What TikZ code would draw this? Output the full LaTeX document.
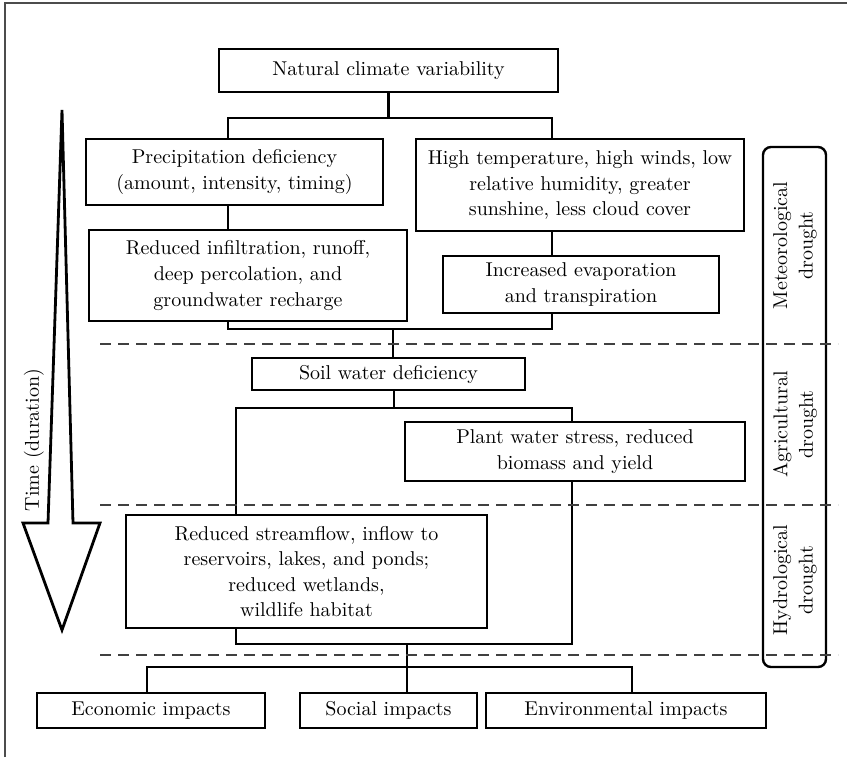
\documentclass[tikz,border=0pt]{standalone}
\usepackage{amsmath,amssymb}
\usetikzlibrary{positioning}

\begin{document}
\begin{tikzpicture}[x=0.5pt,y=-0.5pt]
\tikzset{
  flowbox/.style={draw=black,line width=1.3pt,align=center,inner sep=1pt,font=\fontsize{10}{12.8}\selectfont},
  flowline/.style={draw=black,line width=1.3pt,line cap=rect,line join=miter},
  stagesep/.style={draw=black!75,line width=1.3pt,dash pattern=on 5.5pt off 3.5pt},
  stagelabel/.style={rotate=90,align=center,inner sep=0pt,font=\fontsize{10}{12.8}\selectfont}
}
\useasboundingbox (0,0) rectangle (847,757);
% frame
\draw[black!70,line width=0.6pt] (5,757) -- (5,3) -- (847,3);
% boxes
\node[flowbox,minimum width=169.5pt,minimum height=21.5pt] (n_ncv) at (388.5,70.5) {Natural climate variability};
\node[flowbox,minimum width=148.5pt,minimum height=33pt] (n_precip) at (234.5,172) {Precipitation deficiency\\(amount, intensity, timing)};
\node[flowbox,minimum width=164pt,minimum height=46pt] (n_hightemp) at (580,185) {High temperature, high winds, low\\relative humidity, greater\\sunshine, less cloud cover};
\node[flowbox,minimum width=159pt,minimum height=45.5pt] (n_infil) at (248,275.5) {Reduced infiltration, runoff,\\deep percolation, and\\groundwater recharge};
\node[flowbox,minimum width=138pt,minimum height=28.5pt] (n_evap) at (581,284.5) {Increased evaporation\\and transpiration};
\node[flowbox,minimum width=136.5pt,minimum height=16pt] (n_soil) at (388.5,374) {Soil water deficiency};
\node[flowbox,minimum width=170pt,minimum height=29.5pt] (n_plant) at (575,451.5) {Plant water stress, reduced\\biomass and yield};
\node[flowbox,minimum width=180.5pt,minimum height=56.5pt] (n_stream) at (306.5,571.5) {Reduced streamflow, inflow to\\reservoirs, lakes, and ponds;\\reduced wetlands,\\wildlife habitat};
\node[flowbox,minimum width=114pt,minimum height=17.5pt] (n_econ) at (151,710.5) {Economic impacts};
\node[flowbox,minimum width=88.5pt,minimum height=17.5pt] (n_social) at (388.5,710.5) {Social impacts};
\node[flowbox,minimum width=140pt,minimum height=17.5pt] (n_env) at (626,710.5) {Environmental impacts};
% branch points
\coordinate (s1) at (388.5,118);
\coordinate (s1l) at (228,118);
\coordinate (s1r) at (552,118);
\coordinate (m1) at (393,329);
\coordinate (m1l) at (228,329);
\coordinate (m1r) at (552,329);
\coordinate (s2) at (394,408);
\coordinate (s2l) at (236,408);
\coordinate (s2r) at (572,408);
\coordinate (m2) at (407,644);
\coordinate (m2l) at (236,644);
\coordinate (m2r) at (572,644);
\coordinate (s3) at (407,667);
\coordinate (s3l) at (147,667);
\coordinate (s3r) at (632,667);
% connectors
\draw[flowline] (n_ncv) -- (s1);
\draw[flowline] (s1l |- n_precip.north) -- (s1l) -- (s1r) -- (s1r |- n_hightemp.north);
\draw[flowline] (s1l |- n_precip.south) -- (s1l |- n_infil.north);
\draw[flowline] (s1r |- n_hightemp.south) -- (s1r |- n_evap.north);
\draw[flowline] (m1l |- n_infil.south) -- (m1l) -- (m1r) -- (m1r |- n_evap.south);
\draw[flowline] (m1) -- (m1 |- n_soil.north);
\draw[flowline] (s2 |- n_soil.south) -- (s2);
\draw[flowline] (s2l |- n_stream.north) -- (s2l) -- (s2r) -- (s2r |- n_plant.north);
\draw[flowline] (m2l |- n_stream.south) -- (m2l) -- (m2r) -- (m2r |- n_plant.south);
\draw[flowline] (m2) -- (s3);
\draw[flowline] (s3l |- n_econ.north) -- (s3l) -- (s3r) -- (s3r |- n_env.north);
\draw[flowline] (s3) -- (s3 |- n_social.north);
% drought stages
\draw[line width=1.2pt,rounded corners=4pt] (763,147) rectangle (826,667);
\foreach \yy in {344,505,655}
  \draw[stagesep] (100,\yy) -- (838,\yy);
\node[stagelabel] (n_meteo) at (795,245.5) {Meteorological\\drought};
\node[stagelabel] (n_agri) at (795,424.5) {Agricultural\\drought};
\node[stagelabel] (n_hydro) at (795,580) {Hydrological\\drought};
% time arrow
\draw[line width=1.4pt,line join=miter] (62,110) -- (73,523) -- (100,523) -- (62,630) -- (23,523) -- (48,523) -- cycle;
\node[stagelabel] (n_time) at (34,440) {Time (duration)};
\end{tikzpicture}
\end{document}
